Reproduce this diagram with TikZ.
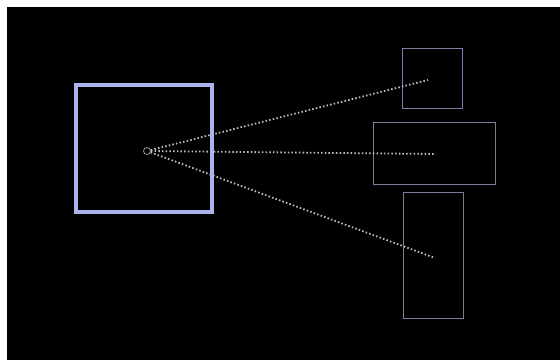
\documentclass[tikz,border=0pt]{standalone}
\usepackage{tikz}
\usetikzlibrary{positioning,calc}
\definecolor{lens}{RGB}{172,178,236}
\definecolor{frame}{RGB}{128,124,158}
\definecolor{ray}{RGB}{190,190,190}

\begin{document}
\begin{tikzpicture}[x=1pt, y=-1pt,
    bigbox/.style={rectangle, draw=lens, line width=4pt, inner sep=0pt, minimum width=136pt, minimum height=127pt},
    smallbox/.style={rectangle, draw=frame, line width=1pt, inner sep=0pt},
    rayline/.style={draw=ray, line width=1.8pt, dash pattern=on 1.5pt off 2.2pt}
]
\useasboundingbox (0,0) rectangle (560,360);
\fill[black] (7,7) rectangle (560,360);

\node[bigbox] (cam) at (144,148.5) {};
\node[circle, draw=ray!80!black, line width=0.8pt, minimum size=7pt, inner sep=0pt] (src) at (147,151) {};

\node[smallbox, minimum width=60pt, minimum height=60pt] (top) at (432,78) {};
\node[smallbox, minimum width=122pt, minimum height=62pt] (mid) at (434,153) {};
\node[smallbox, minimum width=60pt, minimum height=126pt] (low) at (433,255) {};

\coordinate (ttop) at (428,80);
\coordinate (tmid) at (436,154);
\coordinate (tlow) at (435,258);

\draw[rayline] (src) -- (ttop);
\draw[rayline] (src) -- (tmid);
\draw[rayline] (src) -- (tlow);

\end{tikzpicture}
\end{document}
